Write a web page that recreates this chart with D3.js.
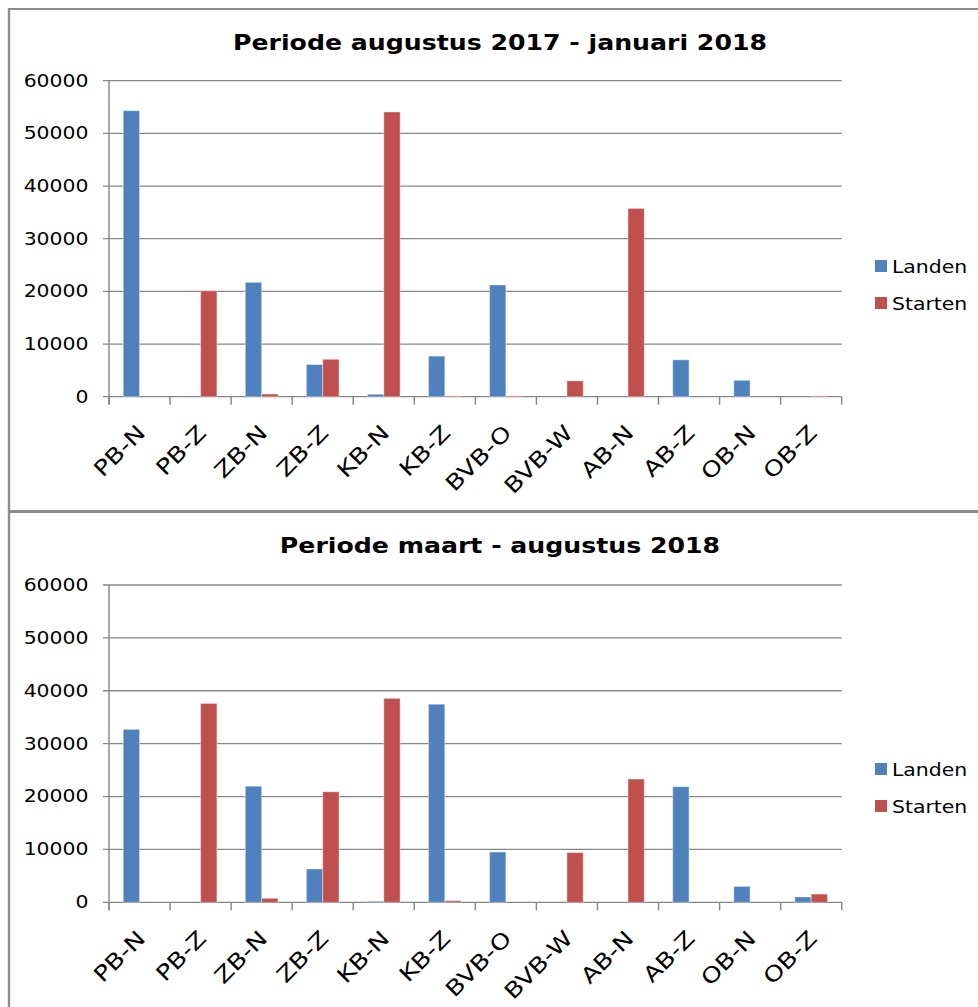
<!DOCTYPE html>
<html>
<head>
<meta charset="utf-8">
<script src="https://cdn.jsdelivr.net/npm/d3@7"></script>
<style>
  html, body { margin: 0; padding: 0; background: #fff; }
  svg { display: block; }
  text { font-family: "DejaVu Sans", Verdana, sans-serif; fill: #000; }
</style>
</head>
<body>
<svg id="chart" width="978" height="1007"></svg>
<script>
// ---- data ----
const categories = ["PB-N","PB-Z","ZB-N","ZB-Z","KB-N","KB-Z","BVB-O","BVB-W","AB-N","AB-Z","OB-N","OB-Z"];
const seriesNames = ["Landen", "Starten"];
const titles = ["Periode augustus 2017 - januari 2018", "Periode maart - augustus 2018"];
const landen1  = [54300, 0, 21700, 6100, 450, 7700, 21200, 0, 0, 7000, 3100, 0];
const starten1 = [0, 20100, 500, 7100, 54050, 150, 150, 3000, 35750, 0, 0, 150];
const landen2  = [32700, 0, 21950, 6300, 200, 37450, 9500, 0, 0, 21850, 3000, 1000];
const starten2 = [0, 37600, 750, 20900, 38550, 300, 0, 9400, 23300, 0, 0, 1550];
const yTicks = [0, 10000, 20000, 30000, 40000, 50000, 60000];

const colors = {Landen: "#4F81BD", Starten: "#C0504D"};
const SX = 1.2; // horizontal stretch of the original picture
const svg = d3.select("#chart");
const root = svg.append("g").attr("transform", `scale(${SX},1)`);
const labelLayer = svg.append("g");
const X = v => v / SX; // convert picture x to inner x

const panels = [
  {top: 9,   height: 502, plotTop: 80.7, plotBottom: 396.7, landen: landen1, starten: starten1, title: titles[0]},
  {top: 512, height: 700, plotTop: 585,  plotBottom: 902.3, landen: landen2, starten: starten2, title: titles[1]}
];

panels.forEach(p => {
  const g = root.append("g");
  g.append("rect")
    .attr("x", X(9)).attr("y", p.top)
    .attr("width", X(1100)).attr("height", p.height)
    .attr("fill", "none").attr("stroke", "#8c8c8c").attr("stroke-width", 2);

  const x = d3.scaleBand().domain(categories).range([X(109), X(841.7)]).paddingInner(0).paddingOuter(0);
  const xi = d3.scaleBand().domain(seriesNames).range([0, x.bandwidth()]).paddingInner(0).paddingOuter(0.87);
  const y = d3.scaleLinear().domain([0, 60000]).range([p.plotBottom, p.plotTop]);

  // gridlines
  g.append("g").selectAll("line").data(yTicks).join("line")
    .attr("x1", X(103)).attr("x2", X(841.7))
    .attr("y1", d => y(d)).attr("y2", d => y(d))
    .attr("stroke", "#878787").attr("stroke-width", 1.3);

  // y axis
  const yAxis = d3.axisLeft(y).tickValues(yTicks).tickSize(0).tickPadding(X(109) - X(88.5)).tickFormat(d3.format("d"));
  const ya = g.append("g").attr("transform", `translate(${X(109)},0)`).call(yAxis);
  ya.select(".domain").remove();
  ya.selectAll("text").attr("font-size", 17).attr("font-family", "DejaVu Sans, Verdana, sans-serif").attr("fill", "#000");
  g.append("line").attr("x1", X(109)).attr("x2", X(109)).attr("y1", p.plotTop).attr("y2", p.plotBottom + 8)
    .attr("stroke", "#878787").attr("stroke-width", 1.2);

  // x axis ticks at band boundaries
  const bounds = categories.map(c => x(c)).concat([x.range()[1]]);
  g.append("g").selectAll("line").data(bounds).join("line")
    .attr("x1", d => d).attr("x2", d => d)
    .attr("y1", p.plotBottom).attr("y2", p.plotBottom + 8)
    .attr("stroke", "#878787").attr("stroke-width", 1.2);

  // x labels (drawn unstretched, rotated 45 degrees, glyphs widened along the baseline)
  labelLayer.append("g").selectAll("text").data(categories).join("text")
    .attr("transform", d => `translate(${SX * (x(d) + x.bandwidth() / 2) + 7},${p.plotBottom + 37.5}) rotate(-45) scale(${SX},1)`)
    .attr("text-anchor", "end")
    .attr("font-size", 21.5)
    .text(d => d);

  // bars
  const rows = categories.map((c, i) => ({cat: c, Landen: p.landen[i], Starten: p.starten[i]}));
  seriesNames.forEach(s => {
    g.append("g").selectAll("rect").data(rows).join("rect")
      .attr("x", d => x(d.cat) + xi(s))
      .attr("width", xi.bandwidth())
      .attr("y", d => y(d[s]))
      .attr("height", d => p.plotBottom - y(d[s]))
      .attr("fill", colors[s])
      .attr("stroke", d => d[s] > 0 ? "rgba(255,255,255,0.35)" : "none")
      .attr("stroke-width", 1);
  });

  // title
  g.append("text")
    .attr("x", X(500)).attr("y", p.top + 41.5)
    .attr("text-anchor", "middle")
    .attr("font-size", 21).attr("font-weight", "bold")
    .text(p.title);

  // legend
  const lg = g.append("g").selectAll("g").data(seriesNames).join("g")
    .attr("transform", (d, i) => `translate(${X(875)},${p.top + 251 + i * 37})`);
  lg.append("rect").attr("width", X(12)).attr("height", 12).attr("fill", d => colors[d]);
  lg.append("text").attr("x", X(17)).attr("y", 12.5).attr("font-size", 17).text(d => d);
});
</script>
</body>
</html>
